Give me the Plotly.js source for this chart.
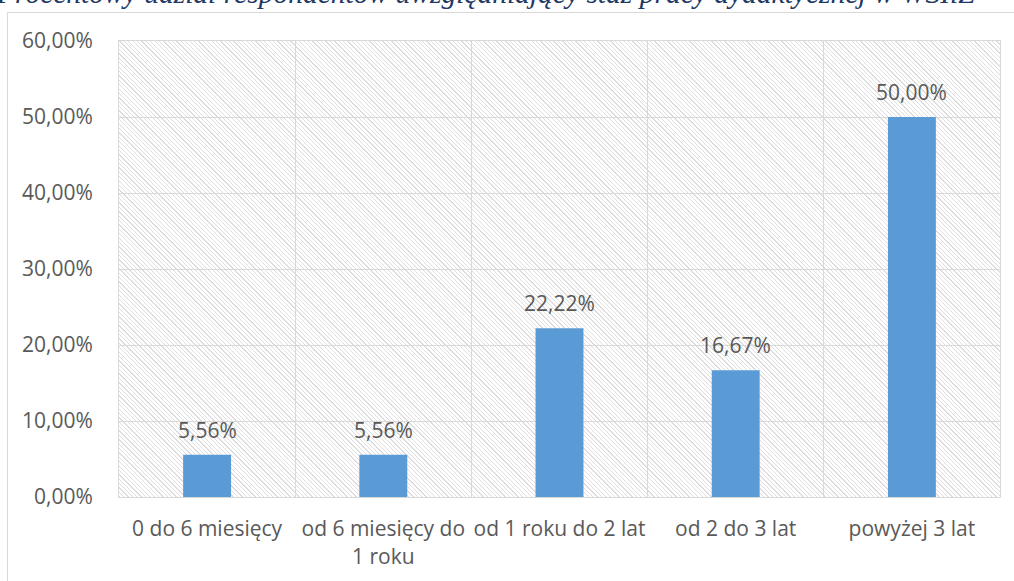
<!DOCTYPE html>
<html>
<head>
<meta charset="utf-8">
<script src="https://cdn.plot.ly/plotly-3.0.1.min.js"></script>
<style>
  html, body { margin: 0; padding: 0; background: #fff; }
  #wrap { position: relative; width: 1014px; height: 581px; overflow: hidden; }
  #hatch { position: absolute; left: 119px; top: 41px; width: 881px; height: 456px;
    background: repeating-linear-gradient(45deg, #dedede 0px, #dedede 0.9px, #ffffff 0.9px, #ffffff 3.1px); }
  #chart { position: absolute; left: 0; top: 0; width: 1014px; height: 581px; }
</style>
</head>
<body>
<div id="wrap">
  <div id="hatch"></div>
  <div id="chart"></div>
</div>
<script>
const titleText = "Procentowy udział respondentów uwzględniający staż pracy dydaktycznej w WSIiZ";
const categories = ["0 do 6 miesięcy", "od 6 miesięcy do 1 roku", "od 1 roku do 2 lat", "od 2 do 3 lat", "powyżej 3 lat"];
const tickLabels = ["0 do 6 miesięcy", "od 6 miesięcy do<br>1 roku", "od 1 roku do 2 lat", "od 2 do 3 lat", "powyżej 3 lat"];
const values = [5.56, 5.56, 22.22, 16.67, 50.00];
const yTicks = [0, 10, 20, 30, 40, 50, 60];

const fmt = v => v.toFixed(2).replace('.', ',') + '%';
const font = "'Open Sans', 'Noto Sans', sans-serif";
const txtColor = '#595959';
const grid = '#d9d9d9';

const trace = {
  type: 'bar',
  x: categories,
  y: values,
  marker: { color: '#5B9BD5' },
  hoverinfo: 'none'
};

const annotations = categories.map((c, i) => ({
  x: c, y: values[i], xref: 'x', yref: 'y',
  text: fmt(values[i]), showarrow: false,
  yanchor: 'middle', yshift: 25,
  font: { family: font, size: 21, color: txtColor }
}));
annotations.push({
  xref: 'paper', yref: 'paper', x: -0.142, y: 1.066,
  xanchor: 'left', yanchor: 'bottom',
  text: '<i>' + titleText + '</i>', showarrow: false,
  font: { family: "'Liberation Serif', serif", size: 29.5, color: '#1F3864' }
});

const layout = {
  width: 1014, height: 581,
  margin: { l: 119, r: 14, t: 41, b: 84, pad: 0 },
  paper_bgcolor: 'rgba(0,0,0,0)',
  plot_bgcolor: 'rgba(0,0,0,0)',
  separators: ', ',
  bargap: 0.728,
  showlegend: false,
  xaxis: {
    type: 'category',
    tickvals: categories, ticktext: tickLabels,
    tickson: 'boundaries',
    tickangle: 0,
    showgrid: true, gridcolor: grid, gridwidth: 1,
    showline: true, linecolor: grid, linewidth: 1, mirror: true,
    ticks: '', ticklabelstandoff: 13,
    tickfont: { family: font, size: 21, color: txtColor },
    fixedrange: true
  },
  yaxis: {
    range: [0, 60],
    tickvals: yTicks, ticktext: yTicks.map(fmt),
    showgrid: true, gridcolor: grid, gridwidth: 1,
    showline: true, linecolor: grid, linewidth: 1, mirror: true,
    zeroline: false,
    ticks: '', ticklabelstandoff: 21,
    tickfont: { family: font, size: 21, color: txtColor },
    fixedrange: true
  },
  annotations: annotations,
  shapes: [{
    type: 'rect', xref: 'paper', yref: 'paper',
    x0: (7.5 - 119) / 881, x1: (1040 - 119) / 881,
    y0: (497 - 620) / 456, y1: (497 - 12.5) / 456,
    line: { color: grid, width: 1 }, fillcolor: 'rgba(0,0,0,0)'
  }]
};

Plotly.newPlot('chart', [trace], layout, { displayModeBar: false, staticPlot: true });
</script>
</body>
</html>
